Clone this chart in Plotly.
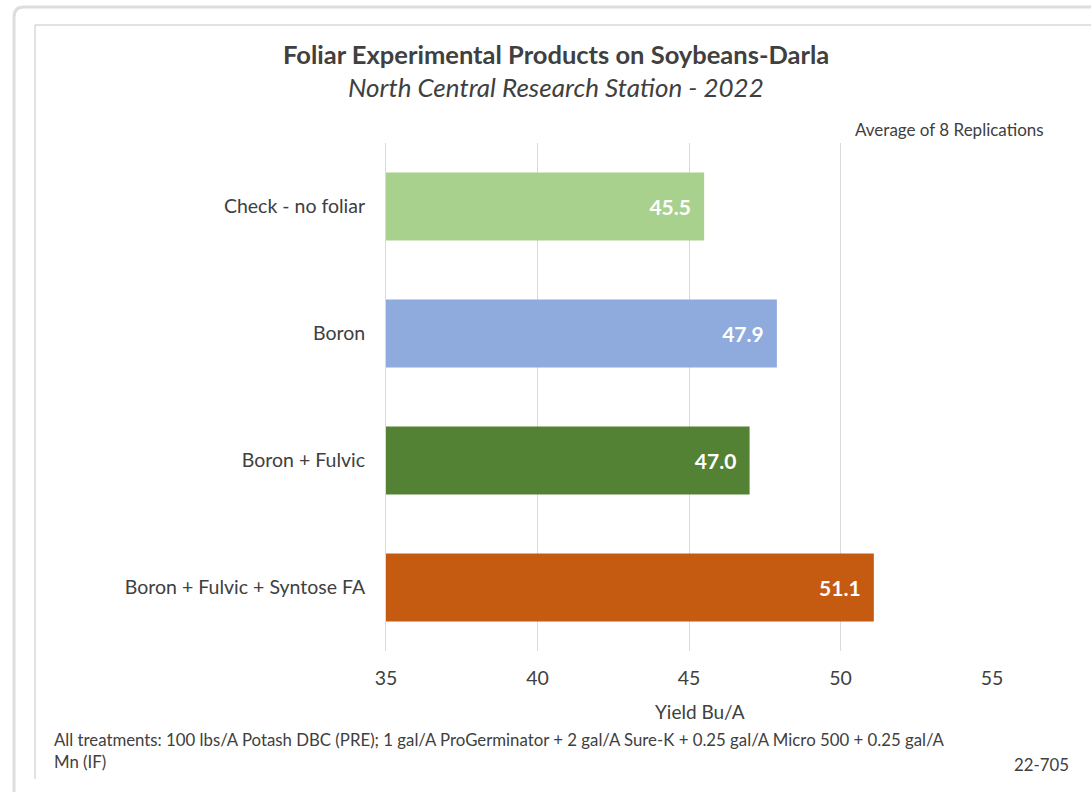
import plotly.graph_objects as go

categories = ["Check - no foliar", "Boron", "Boron + Fulvic", "Boron + Fulvic + Syntose FA"]
yields = [45.5, 47.9, 47.0, 51.1]
colors = ["#A9D18E", "#8FAADC", "#548235", "#C55A11"]
tick_vals = [35, 40, 45, 50, 55]

W, H = 1091, 792
L, R, T, B = 386, 992, 143, 651

def px(x):
    return (x - L) / (R - L)

def py(y):
    return (B - y) / (B - T)

FONT = "Lato"
TXT = "#404040"

fig = go.Figure()
fig.add_trace(go.Bar(
    y=categories, x=yields, orientation="h",
    marker=dict(color=colors, line=dict(width=0)),
    texttemplate="%{x:.1f}\u00a0\u00a0",
    textposition="inside", insidetextanchor="end",
    textfont=dict(family=FONT, size=21, color="white", weight="bold"),
    cliponaxis=False, hoverinfo="skip",
))

shapes = [
    # outer rounded frame
    dict(type="path", xref="paper", yref="paper",
         path=f"M {px(14)} {py(800)} L {px(14)} {py(17)} Q {px(14)} {py(7)} {px(24)} {py(7)} L {px(1100)} {py(7)}",
         line=dict(color="#dddddd", width=3)),
    # inner chart box
    dict(type="line", xref="paper", yref="paper", x0=px(35), x1=px(35), y0=py(25), y1=py(779),
         line=dict(color="#c4c4c4", width=1)),
    dict(type="line", xref="paper", yref="paper", x0=px(35), x1=px(1100), y0=py(25), y1=py(25),
         line=dict(color="#c4c4c4", width=1)),
]

annotations = [
    dict(text="<b>Foliar Experimental Products on Soybeans-Darla</b>", x=px(556), y=py(54),
         font=dict(family=FONT, size=25.5, color=TXT)),
    dict(text="<i>North Central Research Station - 2022</i>", x=px(556), y=py(87),
         font=dict(family=FONT, size=26, color=TXT)),
    dict(text="Average of 8 Replications", x=px(1046), y=py(129), xanchor="right",
         font=dict(family=FONT, size=17, color=TXT)),
    dict(text="Yield Bu/A", x=px(700), y=py(711),
         font=dict(family=FONT, size=19, color=TXT)),
    dict(text="All treatments: 100 lbs/A Potash DBC (PRE); 1 gal/A ProGerminator + 2 gal/A Sure-K + 0.25 gal/A Micro 500 + 0.25 gal/A",
         x=px(52), y=py(739), xanchor="left", font=dict(family=FONT, size=16.8, color=TXT)),
    dict(text="Mn (IF)", x=px(52), y=py(761), xanchor="left", font=dict(family=FONT, size=16.8, color=TXT)),
    dict(text="22-705", x=px(1071), y=py(764), xanchor="right", font=dict(family=FONT, size=16.8, color=TXT)),
]
for a in annotations:
    a.update(xref="paper", yref="paper", showarrow=False, yanchor="middle")
    a.setdefault("xanchor", "center")

fig.update_layout(
    width=W, height=H,
    margin=dict(l=L, r=W - R, t=T, b=H - B, pad=0),
    paper_bgcolor="white", plot_bgcolor="white",
    showlegend=False, bargap=0.463,
    shapes=shapes, annotations=annotations,
    font=dict(family=FONT, color=TXT),
)
fig.update_xaxes(range=[35, 55], tickvals=tick_vals, showgrid=True, gridcolor="#d9d9d9", gridwidth=1,
                 zeroline=False, showline=False, ticks="",
                 tickfont=dict(family=FONT, size=19.5, color=TXT), ticklabelstandoff=13)
fig.update_yaxes(categoryorder="array", categoryarray=categories, autorange="reversed",
                 showgrid=False, showline=True, linecolor="#d9d9d9", linewidth=1, ticks="",
                 tickfont=dict(family=FONT, size=19.5, color=TXT), ticklabelstandoff=16)

fig.write_html("out.html")
